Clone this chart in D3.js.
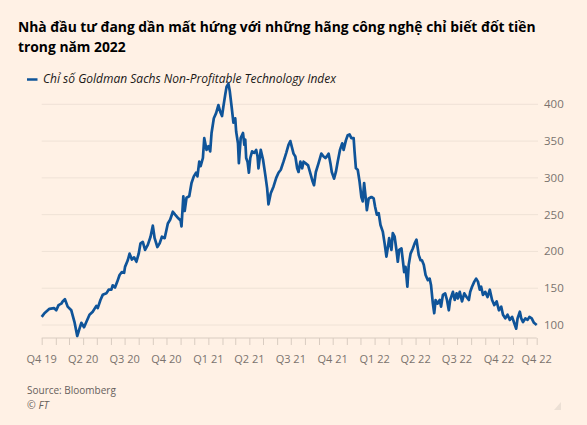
<!DOCTYPE html>
<html>
<head>
<meta charset="utf-8">
<script src="https://cdn.jsdelivr.net/npm/d3@7"></script>
<style>
  body { margin: 0; background: #fff1e5; }
  svg { display: block; }
</style>
</head>
<body>
<div id="chart"></div>
<script>
// Goldman Sachs Non-Profitable Technology Index
var dates = [
  '2020-01-01','2020-01-07','2020-01-18','2020-01-28','2020-02-02','2020-02-07','2020-02-13','2020-02-16',
  '2020-02-21','2020-02-27','2020-03-06','2020-03-13','2020-03-19','2020-03-24','2020-03-28','2020-04-03',
  '2020-04-08','2020-04-15','2020-04-22','2020-04-30','2020-05-03','2020-05-09','2020-05-14','2020-05-22',
  '2020-05-27','2020-06-02','2020-06-05','2020-06-10','2020-06-15','2020-06-20','2020-06-25','2020-06-30',
  '2020-07-02','2020-07-08','2020-07-12','2020-07-17','2020-07-22','2020-07-27','2020-08-01','2020-08-05',
  '2020-08-10','2020-08-15','2020-08-21','2020-08-27','2020-09-01','2020-09-05','2020-09-11','2020-09-16',
  '2020-09-21','2020-09-27','2020-10-04','2020-10-09','2020-10-15','2020-10-20','2020-10-27','2020-11-01',
  '2020-11-03','2020-11-07','2020-11-10','2020-11-14','2020-11-20','2020-11-25','2020-11-30','2020-12-05',
  '2020-12-08','2020-12-12','2020-12-15','2020-12-20','2020-12-23','2020-12-28','2021-01-01','2021-01-05',
  '2021-01-08','2021-01-13','2021-01-18','2021-01-23','2021-01-27','2021-01-31','2021-02-03','2021-02-07',
  '2021-02-10','2021-02-14','2021-02-17','2021-02-21','2021-02-25','2021-03-01','2021-03-03','2021-03-07',
  '2021-03-09','2021-03-13','2021-03-18','2021-03-21','2021-03-23','2021-03-25','2021-03-28','2021-03-31',
  '2021-04-03','2021-04-07','2021-04-12','2021-04-16','2021-04-19','2021-04-21','2021-04-26','2021-05-01',
  '2021-05-06','2021-05-10','2021-05-13','2021-05-18','2021-05-24','2021-05-30','2021-06-04','2021-06-09',
  '2021-06-15','2021-06-21','2021-06-26','2021-06-30','2021-07-07','2021-07-11','2021-07-15','2021-07-18',
  '2021-07-22','2021-07-26','2021-07-29','2021-08-02','2021-08-08','2021-08-13','2021-08-18','2021-08-21',
  '2021-08-25','2021-08-31','2021-09-06','2021-09-11','2021-09-15','2021-09-18','2021-09-22','2021-09-26',
  '2021-09-29','2021-10-04','2021-10-08','2021-10-12','2021-10-17','2021-10-22','2021-10-25','2021-10-30',
  '2021-11-03','2021-11-07','2021-11-11','2021-11-16','2021-11-18','2021-11-21','2021-11-25','2021-11-29',
  '2021-12-03','2021-12-06','2021-12-09','2021-12-13','2021-12-15','2021-12-19','2021-12-25','2021-12-30',
  '2022-01-02','2022-01-06','2022-01-10','2022-01-14','2022-01-19','2022-01-23','2022-01-27','2022-01-31',
  '2022-02-02','2022-02-07','2022-02-10','2022-02-14','2022-02-18','2022-02-21','2022-02-24','2022-03-01',
  '2022-03-04','2022-03-07','2022-03-10','2022-03-14','2022-03-17','2022-03-21','2022-03-26','2022-03-30',
  '2022-04-03','2022-04-08','2022-04-12','2022-04-15','2022-04-19','2022-04-23','2022-04-28','2022-05-02',
  '2022-05-05','2022-05-09','2022-05-12','2022-05-15','2022-05-19','2022-05-24','2022-05-27','2022-05-31',
  '2022-06-05','2022-06-09','2022-06-13','2022-06-16','2022-06-22','2022-06-26','2022-06-30','2022-07-03',
  '2022-07-07','2022-07-12','2022-07-17','2022-07-22','2022-07-27','2022-07-30','2022-08-03','2022-08-08',
  '2022-08-12','2022-08-16','2022-08-20','2022-08-23','2022-08-27','2022-09-01','2022-09-06','2022-09-11',
  '2022-09-16','2022-09-21','2022-09-26','2022-10-01','2022-10-06','2022-10-10','2022-10-15','2022-10-20',
  '2022-10-25','2022-10-30','2022-11-04','2022-11-08','2022-11-11','2022-11-16','2022-11-19','2022-11-23',
  '2022-11-28','2022-12-03','2022-12-07','2022-12-12','2022-12-17','2022-12-23'
];

var values = [
  111,116,122,123,120,127,129,132,
  135,125,120,104,85,95,103,97,
  104,114,118,126,123,134,141,143,
  148,148,154,151,159,168,172,171,
  179,188,197,189,192,186,197,211,
  213,202,209,220,235,218,206,211,
  220,218,238,243,254,250,245,242,
  234,275,255,273,275,293,302,307,
  302,322,316,327,354,338,343,336,
  361,381,388,399,390,384,397,413,
  424,428,418,397,375,381,363,347,
  320,354,361,345,352,327,322,307,
  327,336,334,338,329,313,338,325,
  304,286,264,279,288,300,307,311,
  322,334,345,350,333,329,313,308,
  322,313,322,320,317,306,295,290,
  308,320,333,329,327,329,333,320,
  308,299,308,322,338,347,338,351,
  358,359,354,354,336,313,311,295,
  274,268,293,270,256,272,274,272,
  261,250,252,236,227,211,193,209,
  218,202,225,220,202,186,202,204,
  188,172,179,152,182,197,204,211,
  216,195,188,188,182,168,161,163,
  154,129,116,134,129,134,125,141,
  143,134,120,134,145,134,143,136,
  145,132,143,138,134,145,152,159,
  163,159,148,152,141,145,138,148,
  134,127,132,120,125,114,109,114,
  107,111,102,95,109,118,109,104,
  109,107,111,109,103,100
];

var yTicks = [100, 150, 200, 250, 300, 350, 400];
var xTickDates = ['2020-01-01','2020-04-01','2020-07-01','2020-10-01','2021-01-01','2021-04-01',
  '2021-07-01','2021-10-01','2022-01-01','2022-04-01','2022-07-01','2022-10-01','2022-12-23'];
var xTickLabels = ['Q4 19','Q2 20','Q3 20','Q4 20','Q1 21','Q2 21','Q3 21','Q4 21',
  'Q1 22','Q2 22','Q3 22','Q4 22','Q4 22'];

var title_lines = ['Nhà đầu tư đang dần mất hứng với những hãng công nghệ chỉ biết đốt tiền',
  'trong năm 2022'];
var legend_label = 'Chỉ số Goldman Sachs Non-Profitable Technology Index';

var width = 587, height = 425;
var parse = d3.timeParse('%Y-%m-%d');

var data = dates.map(function(d, i){ return {date: parse(d), value: values[i]}; });

var svg = d3.select('#chart')
  .append('svg')
  .attr('width', width)
  .attr('height', height);

svg.append('rect')
  .attr('width', width)
  .attr('height', height)
  .attr('fill', '#fff1e5');

// scales
var x = d3.scaleTime()
  .domain([parse('2020-01-01'), parse('2022-12-23')])
  .range([41.7, 536.7]);

var y = d3.scaleLinear()
  .domain([100, 400])
  .range([325, 104.3]);

var axis_y = 338;

// shrink/grow a text node to a given width
function fit_text(sel, target){
  var len = sel.node().getComputedTextLength();
  var fs = parseFloat(sel.style('font-size'));
  var new_fs = fs * target / len;
  sel.style('font-size', new_fs + 'px');
  return new_fs;
}

// title
var t1 = svg.append('text')
  .attr('x', 18)
  .attr('y', 32)
  .style('font-family', '"Open Sans", sans-serif')
  .style('font-weight', 'bold')
  .style('font-size', '15px')
  .attr('fill', '#000')
  .text(title_lines[0]);
var title_fs = fit_text(t1, 518);

svg.append('text')
  .attr('x', 18)
  .attr('y', 52)
  .style('font-family', '"Open Sans", sans-serif')
  .style('font-weight', 'bold')
  .style('font-size', title_fs + 'px')
  .attr('fill', '#000')
  .text(title_lines[1]);

// legend
svg.append('line')
  .attr('x1', 27).attr('x2', 37.5)
  .attr('y1', 79.5).attr('y2', 79.5)
  .attr('stroke', '#0f5499')
  .attr('stroke-width', 2.5);

var leg = svg.append('text')
  .attr('x', 43)
  .attr('y', 83)
  .style('font-family', '"Open Sans", sans-serif')
  .style('font-style', 'italic')
  .style('font-size', '12px')
  .attr('fill', '#1a1817')
  .text(legend_label);
fit_text(leg, 293);

// gridlines + y labels
var grid = svg.append('g').classed('grid', true);

grid.selectAll('line')
  .data(yTicks)
  .enter()
  .append('line')
  .attr('x1', 41.7)
  .attr('x2', 538)
  .attr('y1', function(d){ return y(d); })
  .attr('y2', function(d){ return y(d); })
  .attr('stroke', '#efe2d6')
  .attr('stroke-width', 1);

grid.selectAll('text')
  .data(yTicks)
  .enter()
  .append('text')
  .attr('x', 544)
  .attr('y', function(d){ return y(d); })
  .attr('dy', '0.35em')
  .style('font-family', '"Open Sans", sans-serif')
  .style('font-size', '11.5px')
  .attr('fill', '#7a736e')
  .text(function(d){ return d; });

// x axis
var month_ticks = d3.timeMonth.range(parse('2020-01-01'), parse('2022-12-02'));
month_ticks.push(parse('2022-12-23'));

var x_axis = svg.append('g')
  .attr('transform', 'translate(0,' + axis_y + ')')
  .call(d3.axisBottom(x).tickValues(month_ticks).tickSize(7).tickFormat(''));

x_axis.select('.domain')
  .attr('stroke', '#d9ccc1')
  .attr('d', 'M' + x.range()[0] + ',0H' + x.range()[1]);
x_axis.selectAll('.tick line').attr('stroke', '#d9ccc1');

svg.append('g')
  .selectAll('text')
  .data(xTickDates)
  .enter()
  .append('text')
  .attr('x', function(d){ return x(parse(d)); })
  .attr('y', 363)
  .attr('text-anchor', 'middle')
  .style('font-family', '"Open Sans", sans-serif')
  .style('font-size', '11px')
  .attr('fill', '#7a736e')
  .text(function(d, i){ return xTickLabels[i]; });

// the index line
var line = d3.line()
  .x(function(d){ return x(d.date); })
  .y(function(d){ return y(d.value); });

svg.append('path')
  .datum(data)
  .attr('d', line)
  .attr('fill', 'none')
  .attr('stroke', '#0f5499')
  .attr('stroke-width', 2.7)
  .attr('stroke-linejoin', 'round');

// footer
svg.append('text')
  .attr('x', 27)
  .attr('y', 393.5)
  .style('font-family', '"Open Sans", sans-serif')
  .style('font-size', '10px')
  .attr('fill', '#66605c')
  .text('Source: Bloomberg');

svg.append('text')
  .attr('x', 27)
  .attr('y', 408.5)
  .style('font-family', '"Open Sans", sans-serif')
  .style('font-style', 'italic')
  .style('font-size', '10.5px')
  .attr('fill', '#66605c')
  .text('© FT');

// faint resize grip in the corner
svg.append('path')
  .attr('d', 'M561,402 L561,410 L554,410 Z')
  .attr('fill', '#ece0d5');
</script>
</body>
</html>
